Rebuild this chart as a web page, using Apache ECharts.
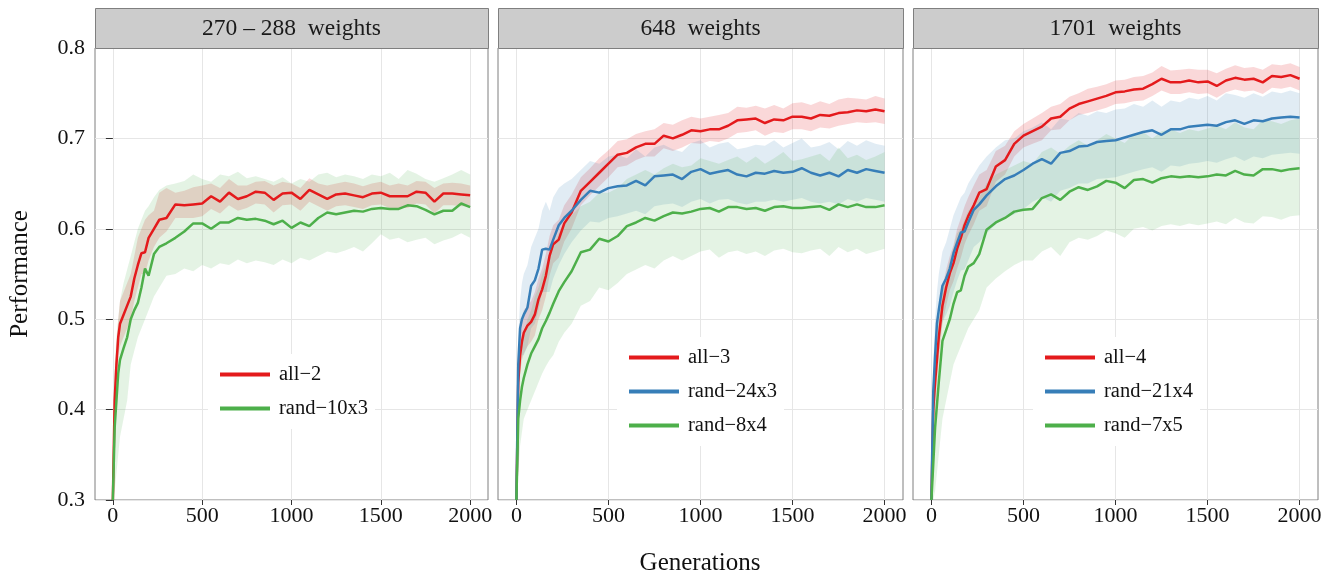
<!DOCTYPE html>
<html>
<head>
<meta charset="utf-8">
<script src="https://cdn.jsdelivr.net/npm/echarts@6/dist/echarts.min.js"></script>
<style>html,body{margin:0;padding:0;background:#fff}#chart{width:1337px;height:577px}</style>
</head>
<body>
<div id="chart"></div>
<script>
// ---------- DATA ----------
const gens = [0,10,20,30,40,60,80,100,120,140,160,180,200,230,260,300,350,400,450,500,550,600,650,700,750,800,850,900,950,1000,1050,1100,1150,1200,1250,1300,1350,1400,1450,1500,1550,1600,1650,1700,1750,1800,1850,1900,1950,2000];
const xTicks = [0,500,1000,1500,2000];
const stripLabels = ['270 – 288  weights','648  weights','1701  weights'];

// Panel 1
const all2 = [0.30,0.41,0.45,0.48,0.495,0.505,0.515,0.525,0.545,0.56,0.573,0.574,0.59,0.60,0.61,0.612,0.627,0.626,0.627,0.628,0.636,0.630,0.640,0.633,0.636,0.641,0.640,0.632,0.639,0.640,0.633,0.643,0.638,0.633,0.638,0.639,0.637,0.635,0.639,0.640,0.636,0.636,0.636,0.641,0.640,0.630,0.639,0.639,0.638,0.637];
const all2Hi = [0.31,0.44,0.47,0.50,0.52,0.53,0.54,0.55,0.57,0.59,0.60,0.61,0.615,0.62,0.64,0.645,0.64,0.642,0.646,0.648,0.65,0.645,0.655,0.648,0.648,0.652,0.653,0.648,0.652,0.65,0.645,0.656,0.65,0.648,0.65,0.652,0.65,0.647,0.65,0.652,0.648,0.65,0.648,0.653,0.652,0.645,0.65,0.651,0.65,0.648];
const all2Lo = [0.30,0.38,0.43,0.46,0.47,0.48,0.49,0.50,0.52,0.535,0.55,0.55,0.565,0.58,0.59,0.597,0.612,0.612,0.612,0.614,0.622,0.617,0.626,0.62,0.623,0.628,0.627,0.618,0.626,0.627,0.62,0.63,0.625,0.62,0.625,0.626,0.624,0.622,0.626,0.627,0.623,0.623,0.623,0.628,0.627,0.617,0.626,0.626,0.625,0.625];
const r10x3 = [0.30,0.38,0.41,0.44,0.455,0.468,0.48,0.50,0.51,0.518,0.535,0.556,0.548,0.572,0.58,0.584,0.59,0.597,0.606,0.606,0.60,0.607,0.607,0.612,0.61,0.611,0.609,0.605,0.609,0.601,0.607,0.603,0.612,0.618,0.616,0.618,0.62,0.619,0.622,0.623,0.622,0.622,0.626,0.625,0.621,0.616,0.62,0.62,0.628,0.624];
const r10x3Hi = [0.31,0.45,0.48,0.50,0.52,0.54,0.555,0.57,0.585,0.60,0.61,0.62,0.625,0.635,0.643,0.648,0.65,0.653,0.66,0.655,0.652,0.66,0.658,0.663,0.656,0.658,0.655,0.652,0.657,0.65,0.655,0.652,0.66,0.662,0.657,0.66,0.658,0.655,0.66,0.658,0.662,0.655,0.665,0.661,0.655,0.652,0.656,0.66,0.665,0.66];
const r10x3Lo = [0.30,0.31,0.33,0.35,0.37,0.39,0.41,0.45,0.465,0.48,0.49,0.50,0.51,0.525,0.535,0.548,0.55,0.556,0.553,0.56,0.556,0.562,0.56,0.566,0.562,0.565,0.563,0.56,0.566,0.562,0.568,0.565,0.57,0.575,0.573,0.576,0.58,0.575,0.584,0.594,0.588,0.59,0.585,0.588,0.59,0.583,0.587,0.59,0.595,0.59];

// Panel 2
const all3 = [0.30,0.43,0.46,0.475,0.485,0.493,0.497,0.505,0.522,0.533,0.548,0.57,0.583,0.588,0.606,0.618,0.642,0.652,0.662,0.672,0.682,0.684,0.69,0.694,0.694,0.703,0.70,0.704,0.709,0.708,0.71,0.71,0.714,0.72,0.721,0.722,0.717,0.721,0.72,0.724,0.724,0.722,0.726,0.725,0.728,0.729,0.731,0.73,0.732,0.73];
const all3Hi = [0.31,0.45,0.48,0.50,0.51,0.515,0.52,0.53,0.545,0.556,0.572,0.592,0.604,0.61,0.626,0.638,0.657,0.667,0.678,0.687,0.697,0.699,0.705,0.708,0.71,0.717,0.715,0.72,0.724,0.722,0.724,0.726,0.728,0.735,0.734,0.736,0.733,0.737,0.733,0.739,0.74,0.737,0.741,0.738,0.743,0.745,0.744,0.743,0.747,0.744];
const all3Lo = [0.30,0.41,0.44,0.455,0.462,0.47,0.475,0.482,0.5,0.51,0.525,0.548,0.562,0.568,0.586,0.6,0.626,0.637,0.647,0.657,0.668,0.67,0.676,0.68,0.68,0.689,0.686,0.69,0.695,0.694,0.697,0.696,0.7,0.706,0.707,0.709,0.703,0.707,0.706,0.71,0.71,0.708,0.712,0.711,0.714,0.716,0.718,0.717,0.718,0.716];
const r24x3 = [0.30,0.45,0.49,0.50,0.505,0.513,0.537,0.543,0.556,0.577,0.578,0.577,0.588,0.604,0.612,0.62,0.632,0.642,0.64,0.645,0.647,0.648,0.653,0.648,0.658,0.659,0.66,0.655,0.663,0.666,0.661,0.663,0.665,0.66,0.658,0.662,0.661,0.664,0.662,0.663,0.667,0.662,0.659,0.662,0.658,0.665,0.662,0.666,0.664,0.662];
const r24x3Hi = [0.31,0.48,0.52,0.54,0.55,0.56,0.58,0.59,0.60,0.62,0.63,0.62,0.635,0.645,0.65,0.655,0.665,0.675,0.672,0.68,0.682,0.678,0.688,0.68,0.69,0.693,0.688,0.685,0.695,0.698,0.69,0.694,0.696,0.688,0.69,0.693,0.692,0.698,0.69,0.695,0.70,0.69,0.692,0.696,0.688,0.697,0.692,0.698,0.694,0.692];
const r24x3Lo = [0.30,0.41,0.45,0.46,0.46,0.47,0.49,0.495,0.51,0.53,0.53,0.53,0.545,0.56,0.572,0.585,0.598,0.608,0.607,0.612,0.614,0.617,0.62,0.616,0.625,0.627,0.628,0.624,0.63,0.633,0.628,0.632,0.633,0.629,0.627,0.63,0.63,0.632,0.63,0.632,0.634,0.63,0.628,0.63,0.627,0.633,0.63,0.634,0.632,0.63];
const r8x4 = [0.30,0.39,0.41,0.425,0.435,0.45,0.462,0.47,0.478,0.49,0.498,0.507,0.517,0.531,0.541,0.553,0.574,0.577,0.589,0.586,0.592,0.603,0.607,0.612,0.609,0.614,0.618,0.617,0.619,0.622,0.623,0.619,0.624,0.624,0.622,0.623,0.62,0.624,0.625,0.623,0.623,0.624,0.625,0.621,0.627,0.624,0.627,0.624,0.624,0.626];
const r8x4Hi = [0.31,0.42,0.45,0.47,0.48,0.50,0.51,0.525,0.535,0.55,0.56,0.57,0.58,0.595,0.605,0.615,0.625,0.63,0.64,0.64,0.645,0.655,0.66,0.665,0.66,0.667,0.672,0.668,0.67,0.678,0.675,0.672,0.676,0.68,0.673,0.68,0.672,0.678,0.685,0.675,0.677,0.68,0.683,0.675,0.69,0.678,0.682,0.676,0.68,0.685];
const r8x4Lo = [0.30,0.33,0.36,0.375,0.39,0.40,0.41,0.42,0.43,0.44,0.448,0.455,0.46,0.475,0.485,0.495,0.515,0.52,0.535,0.532,0.54,0.55,0.555,0.56,0.556,0.565,0.57,0.565,0.57,0.575,0.577,0.568,0.574,0.576,0.572,0.575,0.57,0.576,0.578,0.574,0.573,0.576,0.578,0.57,0.58,0.574,0.578,0.572,0.575,0.578];

// Panel 3
const all4 = [0.30,0.40,0.43,0.455,0.48,0.515,0.535,0.551,0.562,0.578,0.59,0.604,0.614,0.626,0.64,0.644,0.669,0.676,0.694,0.703,0.708,0.713,0.722,0.724,0.733,0.738,0.741,0.744,0.747,0.751,0.752,0.754,0.755,0.76,0.766,0.762,0.762,0.764,0.762,0.763,0.758,0.764,0.767,0.765,0.766,0.762,0.769,0.768,0.77,0.766];
const all4Hi = [0.31,0.43,0.46,0.48,0.50,0.535,0.555,0.57,0.582,0.6,0.612,0.625,0.635,0.648,0.66,0.665,0.686,0.692,0.708,0.716,0.722,0.728,0.735,0.738,0.746,0.75,0.755,0.757,0.76,0.764,0.765,0.768,0.769,0.773,0.78,0.775,0.776,0.777,0.776,0.776,0.772,0.777,0.781,0.778,0.779,0.776,0.782,0.781,0.783,0.779];
const all4Lo = [0.30,0.37,0.40,0.43,0.455,0.495,0.515,0.532,0.542,0.556,0.568,0.583,0.593,0.605,0.62,0.625,0.652,0.66,0.68,0.69,0.694,0.698,0.709,0.71,0.72,0.726,0.728,0.731,0.734,0.738,0.739,0.741,0.742,0.747,0.753,0.749,0.749,0.751,0.749,0.75,0.745,0.751,0.754,0.752,0.753,0.749,0.756,0.755,0.757,0.753];
const r21x4 = [0.30,0.42,0.46,0.495,0.51,0.537,0.545,0.556,0.573,0.585,0.596,0.597,0.607,0.621,0.627,0.637,0.647,0.655,0.659,0.665,0.672,0.677,0.672,0.684,0.686,0.691,0.692,0.696,0.697,0.698,0.701,0.704,0.707,0.709,0.704,0.71,0.71,0.713,0.714,0.715,0.714,0.718,0.72,0.716,0.72,0.719,0.722,0.723,0.724,0.723];
const r21x4Hi = [0.31,0.45,0.50,0.53,0.55,0.575,0.585,0.6,0.615,0.625,0.635,0.64,0.65,0.66,0.67,0.68,0.69,0.698,0.70,0.708,0.712,0.718,0.71,0.722,0.72,0.728,0.725,0.73,0.728,0.732,0.733,0.738,0.735,0.742,0.735,0.742,0.74,0.745,0.743,0.747,0.742,0.75,0.748,0.745,0.75,0.746,0.752,0.75,0.753,0.75];
const r21x4Lo = [0.30,0.39,0.42,0.455,0.47,0.497,0.505,0.515,0.53,0.543,0.554,0.555,0.565,0.58,0.585,0.595,0.605,0.612,0.616,0.622,0.63,0.635,0.63,0.642,0.645,0.65,0.65,0.655,0.656,0.657,0.66,0.663,0.666,0.668,0.663,0.67,0.669,0.672,0.673,0.675,0.673,0.677,0.68,0.675,0.68,0.678,0.682,0.683,0.684,0.683];
const r7x5 = [0.30,0.34,0.38,0.405,0.43,0.476,0.488,0.50,0.517,0.53,0.532,0.548,0.558,0.562,0.572,0.599,0.607,0.612,0.619,0.621,0.622,0.634,0.638,0.632,0.641,0.646,0.643,0.647,0.653,0.651,0.645,0.654,0.655,0.651,0.656,0.658,0.657,0.658,0.657,0.658,0.66,0.659,0.664,0.66,0.659,0.666,0.666,0.664,0.666,0.667];
const r7x5Hi = [0.31,0.40,0.45,0.48,0.50,0.535,0.55,0.565,0.58,0.595,0.60,0.61,0.62,0.625,0.635,0.65,0.66,0.665,0.67,0.675,0.672,0.685,0.69,0.683,0.692,0.698,0.692,0.698,0.705,0.70,0.695,0.705,0.707,0.70,0.708,0.71,0.706,0.71,0.708,0.711,0.714,0.71,0.718,0.712,0.71,0.72,0.719,0.716,0.72,0.722];
const r7x5Lo = [0.30,0.30,0.31,0.33,0.35,0.39,0.41,0.43,0.45,0.46,0.47,0.48,0.49,0.50,0.51,0.535,0.545,0.553,0.56,0.565,0.565,0.575,0.58,0.57,0.585,0.59,0.588,0.592,0.598,0.595,0.59,0.6,0.602,0.598,0.603,0.605,0.603,0.606,0.604,0.606,0.608,0.605,0.612,0.607,0.606,0.614,0.613,0.61,0.614,0.615];

// ---------- STYLE / LAYOUT ----------
const RED = '#E41A1C', BLUE = '#377EB8', GREEN = '#4DAF4A';
const BAND = {[RED]:'rgba(228,26,28,0.17)', [BLUE]:'rgba(55,126,184,0.15)', [GREEN]:'rgba(77,175,74,0.15)'};
const FONT = "'Liberation Serif','DejaVu Serif',serif";
const TOP = 48, H = 452;

const panels = [
  {left:95, width:393, legend:{left:208, top:354},
   groups:[{name:'all−2', color:RED, m:all2, hi:all2Hi, lo:all2Lo},
           {name:'rand−10x3', color:GREEN, m:r10x3, hi:r10x3Hi, lo:r10x3Lo}]},
  {left:498, width:405, legend:{left:617, top:337},
   groups:[{name:'all−3', color:RED, m:all3, hi:all3Hi, lo:all3Lo},
           {name:'rand−24x3', color:BLUE, m:r24x3, hi:r24x3Hi, lo:r24x3Lo},
           {name:'rand−8x4', color:GREEN, m:r8x4, hi:r8x4Hi, lo:r8x4Lo}]},
  {left:913, width:405, legend:{left:1033, top:337},
   groups:[{name:'all−4', color:RED, m:all4, hi:all4Hi, lo:all4Lo},
           {name:'rand−21x4', color:BLUE, m:r21x4, hi:r21x4Hi, lo:r21x4Lo},
           {name:'rand−7x5', color:GREEN, m:r7x5, hi:r7x5Hi, lo:r7x5Lo}]}
];

const grid = [], xAxis = [], yAxis = [], series = [], legend = [], graphic = [];

panels.forEach((p, i) => {
  grid.push({left:p.left, top:TOP, width:p.width, height:H, show:true, backgroundColor:'#fff',
             borderColor:'#7f7f7f', borderWidth:1, containLabel:false});
  xAxis.push({gridIndex:i, type:'value', min:-100, max:2100,
    axisLine:{show:false},
    axisTick:{show:true, length:5, customValues:xTicks, lineStyle:{color:'#333', width:1}},
    axisLabel:{customValues:xTicks, fontSize:22, fontFamily:FONT, color:'#111', margin:5,
               formatter:v => String(v)},
    splitLine:{show:true, lineStyle:{color:'#e6e6e6', width:1}}});
  yAxis.push({gridIndex:i, type:'value', min:0.3, max:0.8, interval:0.1,
    axisLine:{show:false},
    axisTick:{show:i===0, length:7, lineStyle:{color:'#333', width:1}},
    axisLabel:{show:i===0, fontSize:22, fontFamily:FONT, color:'#111', margin:10,
               formatter:v => v.toFixed(1)},
    splitLine:{show:true, lineStyle:{color:'#e6e6e6', width:1}}});

  // ribbons first
  p.groups.forEach(g => {
    series.push({type:'custom', xAxisIndex:i, yAxisIndex:i, silent:true, clip:true, z:2,
      data:[[1000,0.5]],
      renderItem:(params, api) => {
        const pts = [];
        for (let k = 0; k < gens.length; k++) pts.push(api.coord([gens[k], g.hi[k]]));
        for (let k = gens.length - 1; k >= 0; k--) pts.push(api.coord([gens[k], g.lo[k]]));
        return {type:'polygon', shape:{points:pts}, style:{fill:BAND[g.color], stroke:null}};
      }});
  });
  // lines
  p.groups.forEach(g => {
    series.push({type:'line', name:g.name, xAxisIndex:i, yAxisIndex:i, z:3, clip:true,
      symbol:'none', data:gens.map((x,k) => [x, g.m[k]]),
      lineStyle:{color:g.color, width:2.5}, itemStyle:{color:g.color}});
  });

  legend.push({orient:'vertical', left:p.legend.left, top:p.legend.top,
    data:p.groups.map(g => g.name), icon:'rect', itemWidth:50, itemHeight:4, itemGap:13,
    backgroundColor:'#fff', padding:[10,7,10,12], selectedMode:false,
    textStyle:{fontSize:20.5, fontFamily:FONT, color:'#111', padding:[0,0,0,4]}});

  // strip
  graphic.push({type:'rect', silent:true, z:10,
    shape:{x:p.left + 0.5, y:8.5, width:p.width, height:TOP - 8},
    style:{fill:'#cccccc', stroke:'#7f7f7f', lineWidth:1}});
  graphic.push({type:'text', silent:true, z:11, x:p.left + p.width/2, y:28.5,
    style:{text:stripLabels[i], font:"23.5px " + FONT, fill:'#1a1a1a', align:'center', verticalAlign:'middle'}});
});

graphic.push({type:'text', silent:true, x:20, y:274, rotation:Math.PI/2,
  style:{text:'Performance', font:"25px " + FONT, fill:'#111', align:'center', verticalAlign:'middle'}});
graphic.push({type:'text', silent:true, x:700, y:563,
  style:{text:'Generations', font:"25px " + FONT, fill:'#111', align:'center', verticalAlign:'middle'}});

const chart = echarts.init(document.getElementById('chart'), null, {renderer:'canvas'});
chart.setOption({animation:false, backgroundColor:'#fff', grid, xAxis, yAxis, series, legend, graphic});
</script>
</body>
</html>
